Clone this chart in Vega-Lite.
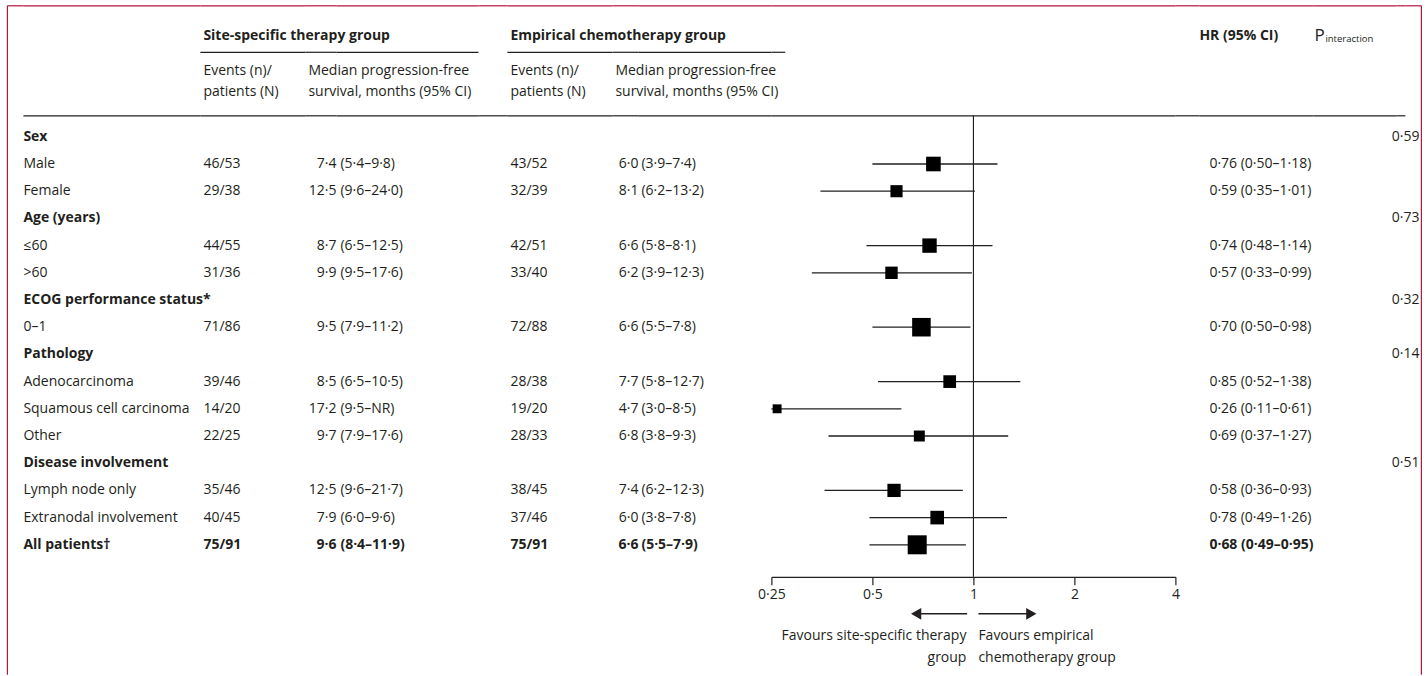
{
"$schema":"https://vega.github.io/schema/vega-lite/v6.json",
"background":"white",
"padding":{"left":6.4,"top":4.4,"right":0,"bottom":0},
"spacing":0,
"bounds":"flush",
"datasets":{"rows":[
{"k":"r0","label":"Sex","kind":"group","p":"0·59"},
{"k":"r1","label":"Male","kind":"item","se":"46/53","sm":"7·4","sc":"(5·4–9·8)","ee":"43/52","em":"6·0","ec":"(3·9–7·4)","hr":0.76,"lo":0.50,"hi":1.18,"hrt":"0·76 (0·50–1·18)","events":89},
{"k":"r2","label":"Female","kind":"item","se":"29/38","sm":"12·5","sc":"(9·6–24·0)","ee":"32/39","em":"8·1","ec":"(6·2–13·2)","hr":0.59,"lo":0.35,"hi":1.01,"hrt":"0·59 (0·35–1·01)","events":61},
{"k":"r3","label":"Age (years)","kind":"group","p":"0·73"},
{"k":"r4","label":"≤60","kind":"item","se":"44/55","sm":"8·7","sc":"(6·5–12·5)","ee":"42/51","em":"6·6","ec":"(5·8–8·1)","hr":0.74,"lo":0.48,"hi":1.14,"hrt":"0·74 (0·48–1·14)","events":86},
{"k":"r5","label":">60","kind":"item","se":"31/36","sm":"9·9","sc":"(9·5–17·6)","ee":"33/40","em":"6·2","ec":"(3·9–12·3)","hr":0.57,"lo":0.33,"hi":0.99,"hrt":"0·57 (0·33–0·99)","events":64},
{"k":"r6","label":"ECOG performance status*","kind":"group","p":"0·32"},
{"k":"r7","label":"0–1","kind":"item","se":"71/86","sm":"9·5","sc":"(7·9–11·2)","ee":"72/88","em":"6·6","ec":"(5·5–7·8)","hr":0.70,"lo":0.50,"hi":0.98,"hrt":"0·70 (0·50–0·98)","events":143},
{"k":"r8","label":"Pathology","kind":"group","p":"0·14"},
{"k":"r9","label":"Adenocarcinoma","kind":"item","se":"39/46","sm":"8·5","sc":"(6·5–10·5)","ee":"28/38","em":"7·7","ec":"(5·8–12·7)","hr":0.85,"lo":0.52,"hi":1.38,"hrt":"0·85 (0·52–1·38)","events":67},
{"k":"r10","label":"Squamous cell carcinoma","kind":"item","se":"14/20","sm":"17·2","sc":"(9·5–NR)","ee":"19/20","em":"4·7","ec":"(3·0–8·5)","hr":0.26,"lo":0.11,"hi":0.61,"hrt":"0·26 (0·11–0·61)","events":33},
{"k":"r11","label":"Other","kind":"item","se":"22/25","sm":"9·7","sc":"(7·9–17·6)","ee":"28/33","em":"6·8","ec":"(3·8–9·3)","hr":0.69,"lo":0.37,"hi":1.27,"hrt":"0·69 (0·37–1·27)","events":50},
{"k":"r12","label":"Disease involvement","kind":"group","p":"0·51"},
{"k":"r13","label":"Lymph node only","kind":"item","se":"35/46","sm":"12·5","sc":"(9·6–21·7)","ee":"38/45","em":"7·4","ec":"(6·2–12·3)","hr":0.58,"lo":0.36,"hi":0.93,"hrt":"0·58 (0·36–0·93)","events":73},
{"k":"r14","label":"Extranodal involvement","kind":"item","se":"40/45","sm":"7·9","sc":"(6·0–9·6)","ee":"37/46","em":"6·0","ec":"(3·8–7·8)","hr":0.78,"lo":0.49,"hi":1.26,"hrt":"0·78 (0·49–1·26)","events":77},
{"k":"r15","label":"All patients†","kind":"total","se":"75/91","sm":"9·6","sc":"(8·4–11·9)","ee":"75/91","em":"6·6","ec":"(5·5–7·9)","hr":0.68,"lo":0.49,"hi":0.95,"hrt":"0·68 (0·49–0·95)","events":150}
]},
"hconcat":[
{"width":16,"height":562.4,"layer":[
 {"data":{"values":[{}]},"mark":{"type":"rule","color":"#b0183d","strokeWidth":1.2},"encoding":{"y":{"datum":"h1","type":"nominal","bandPosition":-0.316,"scale":{"type":"band","domain":["h1","h2","h3","h4","r0","r1","r2","r3","r4","r5","r6","r7","r8","r9","r10","r11","r12","r13","r14","r15"],"paddingInner":0,"paddingOuter":0.338,"align":0,"round":false},"axis":null}}},
 {"data":{"values":[{}]},"mark":{"type":"rule","color":"#b0183d","strokeWidth":1.2},"encoding":{"x":{"datum":0,"type":"quantitative","scale":{"domain":[0,1]},"axis":null},"y":{"datum":"h1","type":"nominal","bandPosition":-0.316,"scale":{"type":"band","domain":["h1","h2","h3","h4","r0","r1","r2","r3","r4","r5","r6","r7","r8","r9","r10","r11","r12","r13","r14","r15"],"paddingInner":0,"paddingOuter":0.338,"align":0,"round":false},"axis":null},"y2":{"datum":"r15","bandPosition":5.279}}}
]},
{"width":177,"height":562.4,"layer":[
 {"data":{"values":[{}]},"mark":{"type":"rule","color":"#b0183d","strokeWidth":1.2},"encoding":{"y":{"datum":"h1","type":"nominal","bandPosition":-0.316,"scale":{"type":"band","domain":["h1","h2","h3","h4","r0","r1","r2","r3","r4","r5","r6","r7","r8","r9","r10","r11","r12","r13","r14","r15"],"paddingInner":0,"paddingOuter":0.338,"align":0,"round":false},"axis":null}}},
 {"data":{"values":[{}]},"mark":{"type":"rule"},"encoding":{"y":{"datum":"h4","type":"nominal","bandPosition":0.728,"scale":{"type":"band","domain":["h1","h2","h3","h4","r0","r1","r2","r3","r4","r5","r6","r7","r8","r9","r10","r11","r12","r13","r14","r15"],"paddingInner":0,"paddingOuter":0.338,"align":0,"round":false},"axis":null}}},
 {"data":{"name":"rows"},"transform":[{"filter":"datum.kind == 'item'"}],"mark":{"type":"text","align":"left"},"encoding":{"x":{"datum":0,"type":"quantitative","scale":{"domain":[0,1]},"axis":null},"y":{"field":"k","type":"nominal","scale":{"type":"band","domain":["h1","h2","h3","h4","r0","r1","r2","r3","r4","r5","r6","r7","r8","r9","r10","r11","r12","r13","r14","r15"],"paddingInner":0,"paddingOuter":0.338,"align":0,"round":false},"axis":null},"text":{"field":"label"}}},
 {"data":{"name":"rows"},"transform":[{"filter":"datum.kind != 'item'"}],"mark":{"type":"text","align":"left","fontWeight":"bold"},"encoding":{"x":{"datum":0,"type":"quantitative","scale":{"domain":[0,1]},"axis":null},"y":{"field":"k","type":"nominal","scale":{"type":"band","domain":["h1","h2","h3","h4","r0","r1","r2","r3","r4","r5","r6","r7","r8","r9","r10","r11","r12","r13","r14","r15"],"paddingInner":0,"paddingOuter":0.338,"align":0,"round":false},"axis":null},"text":{"field":"label"}}}
]},
{"width":105,"height":562.4,"layer":[
 {"data":{"values":[{}]},"mark":{"type":"rule","color":"#b0183d","strokeWidth":1.2},"encoding":{"y":{"datum":"h1","type":"nominal","bandPosition":-0.316,"scale":{"type":"band","domain":["h1","h2","h3","h4","r0","r1","r2","r3","r4","r5","r6","r7","r8","r9","r10","r11","r12","r13","r14","r15"],"paddingInner":0,"paddingOuter":0.338,"align":0,"round":false},"axis":null}}},
 {"data":{"values":[{}]},"mark":{"type":"rule"},"encoding":{"y":{"datum":"h4","type":"nominal","bandPosition":0.728,"scale":{"type":"band","domain":["h1","h2","h3","h4","r0","r1","r2","r3","r4","r5","r6","r7","r8","r9","r10","r11","r12","r13","r14","r15"],"paddingInner":0,"paddingOuter":0.338,"align":0,"round":false},"axis":null}}},
 {"data":{"values":[{}]},"mark":{"type":"rule"},"encoding":{"y":{"datum":"h2","type":"nominal","bandPosition":0.393,"scale":{"type":"band","domain":["h1","h2","h3","h4","r0","r1","r2","r3","r4","r5","r6","r7","r8","r9","r10","r11","r12","r13","r14","r15"],"paddingInner":0,"paddingOuter":0.338,"align":0,"round":false},"axis":null}}},
 {"data":{"values":[{"t":"Site-specific therapy group"}]},"mark":{"type":"text","align":"left","fontWeight":"bold","dx":3},"encoding":{"x":{"datum":0,"type":"quantitative","scale":{"domain":[0,1]},"axis":null},"y":{"datum":"h1","type":"nominal","bandPosition":0.787,"scale":{"type":"band","domain":["h1","h2","h3","h4","r0","r1","r2","r3","r4","r5","r6","r7","r8","r9","r10","r11","r12","r13","r14","r15"],"paddingInner":0,"paddingOuter":0.338,"align":0,"round":false},"axis":null},"text":{"field":"t"}}},
 {"data":{"values":[{"t":"Events (n)/\npatients (N)"}]},"mark":{"type":"text","align":"left","lineBreak":"\n","lineHeight":20.7,"dx":3},"encoding":{"x":{"datum":0,"type":"quantitative","scale":{"domain":[0,1]},"axis":null},"y":{"datum":"h3","type":"nominal","bandPosition":0.074,"scale":{"type":"band","domain":["h1","h2","h3","h4","r0","r1","r2","r3","r4","r5","r6","r7","r8","r9","r10","r11","r12","r13","r14","r15"],"paddingInner":0,"paddingOuter":0.338,"align":0,"round":false},"axis":null},"text":{"field":"t"}}},
 {"data":{"name":"rows"},"transform":[{"filter":"datum.kind == 'item'"}],"mark":{"type":"text","align":"left","dx":3},"encoding":{"x":{"datum":0,"type":"quantitative","scale":{"domain":[0,1]},"axis":null},"y":{"field":"k","type":"nominal","scale":{"type":"band","domain":["h1","h2","h3","h4","r0","r1","r2","r3","r4","r5","r6","r7","r8","r9","r10","r11","r12","r13","r14","r15"],"paddingInner":0,"paddingOuter":0.338,"align":0,"round":false},"axis":null},"text":{"field":"se"}}},
 {"data":{"name":"rows"},"transform":[{"filter":"datum.kind == 'total'"}],"mark":{"type":"text","align":"left","dx":3,"fontWeight":"bold"},"encoding":{"x":{"datum":0,"type":"quantitative","scale":{"domain":[0,1]},"axis":null},"y":{"field":"k","type":"nominal","scale":{"type":"band","domain":["h1","h2","h3","h4","r0","r1","r2","r3","r4","r5","r6","r7","r8","r9","r10","r11","r12","r13","r14","r15"],"paddingInner":0,"paddingOuter":0.338,"align":0,"round":false},"axis":null},"text":{"field":"se"}}}
]},
{"width":31,"height":562.4,"layer":[
 {"data":{"values":[{}]},"mark":{"type":"rule","color":"#b0183d","strokeWidth":1.2},"encoding":{"y":{"datum":"h1","type":"nominal","bandPosition":-0.316,"scale":{"type":"band","domain":["h1","h2","h3","h4","r0","r1","r2","r3","r4","r5","r6","r7","r8","r9","r10","r11","r12","r13","r14","r15"],"paddingInner":0,"paddingOuter":0.338,"align":0,"round":false},"axis":null}}},
 {"data":{"values":[{}]},"mark":{"type":"rule"},"encoding":{"y":{"datum":"h4","type":"nominal","bandPosition":0.728,"scale":{"type":"band","domain":["h1","h2","h3","h4","r0","r1","r2","r3","r4","r5","r6","r7","r8","r9","r10","r11","r12","r13","r14","r15"],"paddingInner":0,"paddingOuter":0.338,"align":0,"round":false},"axis":null}}},
 {"data":{"values":[{}]},"mark":{"type":"rule"},"encoding":{"y":{"datum":"h2","type":"nominal","bandPosition":0.393,"scale":{"type":"band","domain":["h1","h2","h3","h4","r0","r1","r2","r3","r4","r5","r6","r7","r8","r9","r10","r11","r12","r13","r14","r15"],"paddingInner":0,"paddingOuter":0.338,"align":0,"round":false},"axis":null}}},
 {"data":{"values":[{"t":"Median progression-free\nsurvival, months (95% CI)"}]},"mark":{"type":"text","align":"left","lineBreak":"\n","lineHeight":20.7,"dx":3},"encoding":{"x":{"datum":0,"type":"quantitative","scale":{"domain":[0,1]},"axis":null},"y":{"datum":"h3","type":"nominal","bandPosition":0.074,"scale":{"type":"band","domain":["h1","h2","h3","h4","r0","r1","r2","r3","r4","r5","r6","r7","r8","r9","r10","r11","r12","r13","r14","r15"],"paddingInner":0,"paddingOuter":0.338,"align":0,"round":false},"axis":null},"text":{"field":"t"}}},
 {"data":{"name":"rows"},"transform":[{"filter":"datum.kind == 'item'"}],"mark":{"type":"text","align":"right"},"encoding":{"x":{"datum":1,"type":"quantitative","scale":{"domain":[0,1]},"axis":null},"y":{"field":"k","type":"nominal","scale":{"type":"band","domain":["h1","h2","h3","h4","r0","r1","r2","r3","r4","r5","r6","r7","r8","r9","r10","r11","r12","r13","r14","r15"],"paddingInner":0,"paddingOuter":0.338,"align":0,"round":false},"axis":null},"text":{"field":"sm"}}},
 {"data":{"name":"rows"},"transform":[{"filter":"datum.kind == 'total'"}],"mark":{"type":"text","align":"right","fontWeight":"bold"},"encoding":{"x":{"datum":1,"type":"quantitative","scale":{"domain":[0,1]},"axis":null},"y":{"field":"k","type":"nominal","scale":{"type":"band","domain":["h1","h2","h3","h4","r0","r1","r2","r3","r4","r5","r6","r7","r8","r9","r10","r11","r12","r13","r14","r15"],"paddingInner":0,"paddingOuter":0.338,"align":0,"round":false},"axis":null},"text":{"field":"sm"}}}
]},
{"width":142,"height":562.4,"layer":[
 {"data":{"values":[{}]},"mark":{"type":"rule","color":"#b0183d","strokeWidth":1.2},"encoding":{"y":{"datum":"h1","type":"nominal","bandPosition":-0.316,"scale":{"type":"band","domain":["h1","h2","h3","h4","r0","r1","r2","r3","r4","r5","r6","r7","r8","r9","r10","r11","r12","r13","r14","r15"],"paddingInner":0,"paddingOuter":0.338,"align":0,"round":false},"axis":null}}},
 {"data":{"values":[{}]},"mark":{"type":"rule"},"encoding":{"y":{"datum":"h4","type":"nominal","bandPosition":0.728,"scale":{"type":"band","domain":["h1","h2","h3","h4","r0","r1","r2","r3","r4","r5","r6","r7","r8","r9","r10","r11","r12","r13","r14","r15"],"paddingInner":0,"paddingOuter":0.338,"align":0,"round":false},"axis":null}}},
 {"data":{"values":[{}]},"mark":{"type":"rule"},"encoding":{"y":{"datum":"h2","type":"nominal","bandPosition":0.393,"scale":{"type":"band","domain":["h1","h2","h3","h4","r0","r1","r2","r3","r4","r5","r6","r7","r8","r9","r10","r11","r12","r13","r14","r15"],"paddingInner":0,"paddingOuter":0.338,"align":0,"round":false},"axis":null}}},
 {"data":{"name":"rows"},"transform":[{"filter":"datum.kind == 'item'"}],"mark":{"type":"text","align":"left","dx":4},"encoding":{"x":{"datum":0,"type":"quantitative","scale":{"domain":[0,1]},"axis":null},"y":{"field":"k","type":"nominal","scale":{"type":"band","domain":["h1","h2","h3","h4","r0","r1","r2","r3","r4","r5","r6","r7","r8","r9","r10","r11","r12","r13","r14","r15"],"paddingInner":0,"paddingOuter":0.338,"align":0,"round":false},"axis":null},"text":{"field":"sc"}}},
 {"data":{"name":"rows"},"transform":[{"filter":"datum.kind == 'total'"}],"mark":{"type":"text","align":"left","dx":4,"fontWeight":"bold"},"encoding":{"x":{"datum":0,"type":"quantitative","scale":{"domain":[0,1]},"axis":null},"y":{"field":"k","type":"nominal","scale":{"type":"band","domain":["h1","h2","h3","h4","r0","r1","r2","r3","r4","r5","r6","r7","r8","r9","r10","r11","r12","r13","r14","r15"],"paddingInner":0,"paddingOuter":0.338,"align":0,"round":false},"axis":null},"text":{"field":"sc"}}}
]},
{"width":29,"height":562.4,"layer":[
 {"data":{"values":[{}]},"mark":{"type":"rule","color":"#b0183d","strokeWidth":1.2},"encoding":{"y":{"datum":"h1","type":"nominal","bandPosition":-0.316,"scale":{"type":"band","domain":["h1","h2","h3","h4","r0","r1","r2","r3","r4","r5","r6","r7","r8","r9","r10","r11","r12","r13","r14","r15"],"paddingInner":0,"paddingOuter":0.338,"align":0,"round":false},"axis":null}}},
 {"data":{"values":[{}]},"mark":{"type":"rule"},"encoding":{"y":{"datum":"h4","type":"nominal","bandPosition":0.728,"scale":{"type":"band","domain":["h1","h2","h3","h4","r0","r1","r2","r3","r4","r5","r6","r7","r8","r9","r10","r11","r12","r13","r14","r15"],"paddingInner":0,"paddingOuter":0.338,"align":0,"round":false},"axis":null}}}
]},
{"width":105,"height":562.4,"layer":[
 {"data":{"values":[{}]},"mark":{"type":"rule","color":"#b0183d","strokeWidth":1.2},"encoding":{"y":{"datum":"h1","type":"nominal","bandPosition":-0.316,"scale":{"type":"band","domain":["h1","h2","h3","h4","r0","r1","r2","r3","r4","r5","r6","r7","r8","r9","r10","r11","r12","r13","r14","r15"],"paddingInner":0,"paddingOuter":0.338,"align":0,"round":false},"axis":null}}},
 {"data":{"values":[{}]},"mark":{"type":"rule"},"encoding":{"y":{"datum":"h4","type":"nominal","bandPosition":0.728,"scale":{"type":"band","domain":["h1","h2","h3","h4","r0","r1","r2","r3","r4","r5","r6","r7","r8","r9","r10","r11","r12","r13","r14","r15"],"paddingInner":0,"paddingOuter":0.338,"align":0,"round":false},"axis":null}}},
 {"data":{"values":[{}]},"mark":{"type":"rule"},"encoding":{"y":{"datum":"h2","type":"nominal","bandPosition":0.393,"scale":{"type":"band","domain":["h1","h2","h3","h4","r0","r1","r2","r3","r4","r5","r6","r7","r8","r9","r10","r11","r12","r13","r14","r15"],"paddingInner":0,"paddingOuter":0.338,"align":0,"round":false},"axis":null}}},
 {"data":{"values":[{"t":"Empirical chemotherapy group"}]},"mark":{"type":"text","align":"left","fontWeight":"bold","dx":3},"encoding":{"x":{"datum":0,"type":"quantitative","scale":{"domain":[0,1]},"axis":null},"y":{"datum":"h1","type":"nominal","bandPosition":0.787,"scale":{"type":"band","domain":["h1","h2","h3","h4","r0","r1","r2","r3","r4","r5","r6","r7","r8","r9","r10","r11","r12","r13","r14","r15"],"paddingInner":0,"paddingOuter":0.338,"align":0,"round":false},"axis":null},"text":{"field":"t"}}},
 {"data":{"values":[{"t":"Events (n)/\npatients (N)"}]},"mark":{"type":"text","align":"left","lineBreak":"\n","lineHeight":20.7,"dx":3},"encoding":{"x":{"datum":0,"type":"quantitative","scale":{"domain":[0,1]},"axis":null},"y":{"datum":"h3","type":"nominal","bandPosition":0.074,"scale":{"type":"band","domain":["h1","h2","h3","h4","r0","r1","r2","r3","r4","r5","r6","r7","r8","r9","r10","r11","r12","r13","r14","r15"],"paddingInner":0,"paddingOuter":0.338,"align":0,"round":false},"axis":null},"text":{"field":"t"}}},
 {"data":{"name":"rows"},"transform":[{"filter":"datum.kind == 'item'"}],"mark":{"type":"text","align":"left","dx":3},"encoding":{"x":{"datum":0,"type":"quantitative","scale":{"domain":[0,1]},"axis":null},"y":{"field":"k","type":"nominal","scale":{"type":"band","domain":["h1","h2","h3","h4","r0","r1","r2","r3","r4","r5","r6","r7","r8","r9","r10","r11","r12","r13","r14","r15"],"paddingInner":0,"paddingOuter":0.338,"align":0,"round":false},"axis":null},"text":{"field":"ee"}}},
 {"data":{"name":"rows"},"transform":[{"filter":"datum.kind == 'total'"}],"mark":{"type":"text","align":"left","dx":3,"fontWeight":"bold"},"encoding":{"x":{"datum":0,"type":"quantitative","scale":{"domain":[0,1]},"axis":null},"y":{"field":"k","type":"nominal","scale":{"type":"band","domain":["h1","h2","h3","h4","r0","r1","r2","r3","r4","r5","r6","r7","r8","r9","r10","r11","r12","r13","r14","r15"],"paddingInner":0,"paddingOuter":0.338,"align":0,"round":false},"axis":null},"text":{"field":"ee"}}}
]},
{"width":26,"height":562.4,"layer":[
 {"data":{"values":[{}]},"mark":{"type":"rule","color":"#b0183d","strokeWidth":1.2},"encoding":{"y":{"datum":"h1","type":"nominal","bandPosition":-0.316,"scale":{"type":"band","domain":["h1","h2","h3","h4","r0","r1","r2","r3","r4","r5","r6","r7","r8","r9","r10","r11","r12","r13","r14","r15"],"paddingInner":0,"paddingOuter":0.338,"align":0,"round":false},"axis":null}}},
 {"data":{"values":[{}]},"mark":{"type":"rule"},"encoding":{"y":{"datum":"h4","type":"nominal","bandPosition":0.728,"scale":{"type":"band","domain":["h1","h2","h3","h4","r0","r1","r2","r3","r4","r5","r6","r7","r8","r9","r10","r11","r12","r13","r14","r15"],"paddingInner":0,"paddingOuter":0.338,"align":0,"round":false},"axis":null}}},
 {"data":{"values":[{}]},"mark":{"type":"rule"},"encoding":{"y":{"datum":"h2","type":"nominal","bandPosition":0.393,"scale":{"type":"band","domain":["h1","h2","h3","h4","r0","r1","r2","r3","r4","r5","r6","r7","r8","r9","r10","r11","r12","r13","r14","r15"],"paddingInner":0,"paddingOuter":0.338,"align":0,"round":false},"axis":null}}},
 {"data":{"values":[{"t":"Median progression-free\nsurvival, months (95% CI)"}]},"mark":{"type":"text","align":"left","lineBreak":"\n","lineHeight":20.7,"dx":3},"encoding":{"x":{"datum":0,"type":"quantitative","scale":{"domain":[0,1]},"axis":null},"y":{"datum":"h3","type":"nominal","bandPosition":0.074,"scale":{"type":"band","domain":["h1","h2","h3","h4","r0","r1","r2","r3","r4","r5","r6","r7","r8","r9","r10","r11","r12","r13","r14","r15"],"paddingInner":0,"paddingOuter":0.338,"align":0,"round":false},"axis":null},"text":{"field":"t"}}},
 {"data":{"name":"rows"},"transform":[{"filter":"datum.kind == 'item'"}],"mark":{"type":"text","align":"right"},"encoding":{"x":{"datum":1,"type":"quantitative","scale":{"domain":[0,1]},"axis":null},"y":{"field":"k","type":"nominal","scale":{"type":"band","domain":["h1","h2","h3","h4","r0","r1","r2","r3","r4","r5","r6","r7","r8","r9","r10","r11","r12","r13","r14","r15"],"paddingInner":0,"paddingOuter":0.338,"align":0,"round":false},"axis":null},"text":{"field":"em"}}},
 {"data":{"name":"rows"},"transform":[{"filter":"datum.kind == 'total'"}],"mark":{"type":"text","align":"right","fontWeight":"bold"},"encoding":{"x":{"datum":1,"type":"quantitative","scale":{"domain":[0,1]},"axis":null},"y":{"field":"k","type":"nominal","scale":{"type":"band","domain":["h1","h2","h3","h4","r0","r1","r2","r3","r4","r5","r6","r7","r8","r9","r10","r11","r12","r13","r14","r15"],"paddingInner":0,"paddingOuter":0.338,"align":0,"round":false},"axis":null},"text":{"field":"em"}}}
]},
{"width":133,"height":562.4,"layer":[
 {"data":{"values":[{}]},"mark":{"type":"rule","color":"#b0183d","strokeWidth":1.2},"encoding":{"y":{"datum":"h1","type":"nominal","bandPosition":-0.316,"scale":{"type":"band","domain":["h1","h2","h3","h4","r0","r1","r2","r3","r4","r5","r6","r7","r8","r9","r10","r11","r12","r13","r14","r15"],"paddingInner":0,"paddingOuter":0.338,"align":0,"round":false},"axis":null}}},
 {"data":{"values":[{}]},"mark":{"type":"rule"},"encoding":{"y":{"datum":"h4","type":"nominal","bandPosition":0.728,"scale":{"type":"band","domain":["h1","h2","h3","h4","r0","r1","r2","r3","r4","r5","r6","r7","r8","r9","r10","r11","r12","r13","r14","r15"],"paddingInner":0,"paddingOuter":0.338,"align":0,"round":false},"axis":null}}},
 {"data":{"values":[{}]},"mark":{"type":"rule"},"encoding":{"y":{"datum":"h2","type":"nominal","bandPosition":0.393,"scale":{"type":"band","domain":["h1","h2","h3","h4","r0","r1","r2","r3","r4","r5","r6","r7","r8","r9","r10","r11","r12","r13","r14","r15"],"paddingInner":0,"paddingOuter":0.338,"align":0,"round":false},"axis":null}}},
 {"data":{"name":"rows"},"transform":[{"filter":"datum.kind == 'item'"}],"mark":{"type":"text","align":"left","dx":3},"encoding":{"x":{"datum":0,"type":"quantitative","scale":{"domain":[0,1]},"axis":null},"y":{"field":"k","type":"nominal","scale":{"type":"band","domain":["h1","h2","h3","h4","r0","r1","r2","r3","r4","r5","r6","r7","r8","r9","r10","r11","r12","r13","r14","r15"],"paddingInner":0,"paddingOuter":0.338,"align":0,"round":false},"axis":null},"text":{"field":"ec"}}},
 {"data":{"name":"rows"},"transform":[{"filter":"datum.kind == 'total'"}],"mark":{"type":"text","align":"left","dx":3,"fontWeight":"bold"},"encoding":{"x":{"datum":0,"type":"quantitative","scale":{"domain":[0,1]},"axis":null},"y":{"field":"k","type":"nominal","scale":{"type":"band","domain":["h1","h2","h3","h4","r0","r1","r2","r3","r4","r5","r6","r7","r8","r9","r10","r11","r12","r13","r14","r15"],"paddingInner":0,"paddingOuter":0.338,"align":0,"round":false},"axis":null},"text":{"field":"ec"}}}
]},
{"width":404,"height":562.4,"layer":[
 {"data":{"values":[{}]},"mark":{"type":"rule","color":"#b0183d","strokeWidth":1.2},"encoding":{"y":{"datum":"h1","type":"nominal","bandPosition":-0.316,"scale":{"type":"band","domain":["h1","h2","h3","h4","r0","r1","r2","r3","r4","r5","r6","r7","r8","r9","r10","r11","r12","r13","r14","r15"],"paddingInner":0,"paddingOuter":0.338,"align":0,"round":false},"axis":null}}},
 {"data":{"values":[{}]},"mark":{"type":"rule"},"encoding":{"y":{"datum":"h4","type":"nominal","bandPosition":0.728,"scale":{"type":"band","domain":["h1","h2","h3","h4","r0","r1","r2","r3","r4","r5","r6","r7","r8","r9","r10","r11","r12","r13","r14","r15"],"paddingInner":0,"paddingOuter":0.338,"align":0,"round":false},"axis":null}}},
 {"data":{"values":[{}]},"mark":{"type":"rule","color":"#000000","strokeWidth":1},"encoding":{"x":{"datum":1,"type":"quantitative","scale":{"type":"log","domain":[0.25,4],"clamp":true,"nice":false},"axis":{"orient":"bottom","values":[0.25,0.5,1,2,4],"labelExpr":"replace(toString(datum.value), '.', '·')","title":null,"grid":false,"domainColor":"#231f20","domainWidth":1.2,"tickColor":"#231f20","tickWidth":1.2,"tickSize":8,"labelFont":"Open Sans","labelFontSize":14,"labelColor":"#231f20","labelPadding":3,"labelFlush":false,"labelOverlap":false}},"y":{"datum":"h4","type":"nominal","bandPosition":0.728,"scale":{"type":"band","domain":["h1","h2","h3","h4","r0","r1","r2","r3","r4","r5","r6","r7","r8","r9","r10","r11","r12","r13","r14","r15"],"paddingInner":0,"paddingOuter":0.338,"align":0,"round":false},"axis":null},"y2":{"datum":"r15","bandPosition":1.676}}},
 {"data":{"values":[{}]},"mark":{"type":"rule"},"encoding":{"x":{"datum":0.25,"type":"quantitative","scale":{"type":"log","domain":[0.25,4],"clamp":true,"nice":false}},"x2":{"datum":0.275},"y":{"datum":"h2","type":"nominal","bandPosition":0.393,"scale":{"type":"band","domain":["h1","h2","h3","h4","r0","r1","r2","r3","r4","r5","r6","r7","r8","r9","r10","r11","r12","r13","r14","r15"],"paddingInner":0,"paddingOuter":0.338,"align":0,"round":false},"axis":null}}},
 {"data":{"name":"rows"},"transform":[{"filter":"datum.hr != null"}],"mark":{"type":"rule","strokeWidth":1.3},"encoding":{"x":{"field":"lo","type":"quantitative","scale":{"type":"log","domain":[0.25,4],"clamp":true,"nice":false}},"x2":{"field":"hi"},"y":{"field":"k","type":"nominal","scale":{"type":"band","domain":["h1","h2","h3","h4","r0","r1","r2","r3","r4","r5","r6","r7","r8","r9","r10","r11","r12","r13","r14","r15"],"paddingInner":0,"paddingOuter":0.338,"align":0,"round":false},"axis":null}}},
 {"data":{"name":"rows"},"transform":[{"filter":"datum.hr != null"}],"mark":{"type":"point","shape":"square","filled":true,"color":"#000000","opacity":1},"encoding":{"x":{"field":"hr","type":"quantitative","scale":{"type":"log","domain":[0.25,4],"clamp":true,"nice":false}},"y":{"field":"k","type":"nominal","scale":{"type":"band","domain":["h1","h2","h3","h4","r0","r1","r2","r3","r4","r5","r6","r7","r8","r9","r10","r11","r12","r13","r14","r15"],"paddingInner":0,"paddingOuter":0.338,"align":0,"round":false},"axis":null},"size":{"field":"events","type":"quantitative","scale":{"domain":[0,150],"range":[0,361]},"legend":null}}},
 {"data":{"values":[{}]},"mark":{"type":"rule","strokeWidth":1.5},"encoding":{"x":{"datum":0.958,"type":"quantitative","scale":{"type":"log","domain":[0.25,4],"clamp":true,"nice":false}},"x2":{"datum":0.675},"y":{"datum":"r15","type":"nominal","bandPosition":3.037,"scale":{"type":"band","domain":["h1","h2","h3","h4","r0","r1","r2","r3","r4","r5","r6","r7","r8","r9","r10","r11","r12","r13","r14","r15"],"paddingInner":0,"paddingOuter":0.338,"align":0,"round":false},"axis":null}}},
 {"data":{"values":[{}]},"mark":{"type":"rule","strokeWidth":1.5},"encoding":{"x":{"datum":1.035,"type":"quantitative","scale":{"type":"log","domain":[0.25,4],"clamp":true,"nice":false}},"x2":{"datum":1.488},"y":{"datum":"r15","type":"nominal","bandPosition":3.037,"scale":{"type":"band","domain":["h1","h2","h3","h4","r0","r1","r2","r3","r4","r5","r6","r7","r8","r9","r10","r11","r12","r13","r14","r15"],"paddingInner":0,"paddingOuter":0.338,"align":0,"round":false},"axis":null}}},
 {"data":{"values":[{}]},"mark":{"type":"point","shape":"triangle-left","filled":true,"size":140,"color":"#231f20","opacity":1},"encoding":{"x":{"datum":0.675,"type":"quantitative","scale":{"type":"log","domain":[0.25,4],"clamp":true,"nice":false}},"y":{"datum":"r15","type":"nominal","bandPosition":3.037,"scale":{"type":"band","domain":["h1","h2","h3","h4","r0","r1","r2","r3","r4","r5","r6","r7","r8","r9","r10","r11","r12","r13","r14","r15"],"paddingInner":0,"paddingOuter":0.338,"align":0,"round":false},"axis":null}}},
 {"data":{"values":[{}]},"mark":{"type":"point","shape":"triangle-right","filled":true,"size":140,"color":"#231f20","opacity":1},"encoding":{"x":{"datum":1.488,"type":"quantitative","scale":{"type":"log","domain":[0.25,4],"clamp":true,"nice":false}},"y":{"datum":"r15","type":"nominal","bandPosition":3.037,"scale":{"type":"band","domain":["h1","h2","h3","h4","r0","r1","r2","r3","r4","r5","r6","r7","r8","r9","r10","r11","r12","r13","r14","r15"],"paddingInner":0,"paddingOuter":0.338,"align":0,"round":false},"axis":null}}},
 {"data":{"values":[{"t":"Favours site-specific therapy\ngroup"}]},"mark":{"type":"text","align":"right","dx":-7,"lineBreak":"\n","lineHeight":22},"encoding":{"x":{"datum":1,"type":"quantitative","scale":{"type":"log","domain":[0.25,4],"clamp":true,"nice":false}},"y":{"datum":"r15","type":"nominal","bandPosition":3.846,"scale":{"type":"band","domain":["h1","h2","h3","h4","r0","r1","r2","r3","r4","r5","r6","r7","r8","r9","r10","r11","r12","r13","r14","r15"],"paddingInner":0,"paddingOuter":0.338,"align":0,"round":false},"axis":null},"text":{"field":"t"}}},
 {"data":{"values":[{"t":"Favours empirical\nchemotherapy group"}]},"mark":{"type":"text","align":"left","dx":5,"lineBreak":"\n","lineHeight":22},"encoding":{"x":{"datum":1,"type":"quantitative","scale":{"type":"log","domain":[0.25,4],"clamp":true,"nice":false}},"y":{"datum":"r15","type":"nominal","bandPosition":3.846,"scale":{"type":"band","domain":["h1","h2","h3","h4","r0","r1","r2","r3","r4","r5","r6","r7","r8","r9","r10","r11","r12","r13","r14","r15"],"paddingInner":0,"paddingOuter":0.338,"align":0,"round":false},"axis":null},"text":{"field":"t"}}}
]},
{"width":24,"height":562.4,"layer":[
 {"data":{"values":[{}]},"mark":{"type":"rule","color":"#b0183d","strokeWidth":1.2},"encoding":{"y":{"datum":"h1","type":"nominal","bandPosition":-0.316,"scale":{"type":"band","domain":["h1","h2","h3","h4","r0","r1","r2","r3","r4","r5","r6","r7","r8","r9","r10","r11","r12","r13","r14","r15"],"paddingInner":0,"paddingOuter":0.338,"align":0,"round":false},"axis":null}}},
 {"data":{"values":[{}]},"mark":{"type":"rule"},"encoding":{"y":{"datum":"h4","type":"nominal","bandPosition":0.728,"scale":{"type":"band","domain":["h1","h2","h3","h4","r0","r1","r2","r3","r4","r5","r6","r7","r8","r9","r10","r11","r12","r13","r14","r15"],"paddingInner":0,"paddingOuter":0.338,"align":0,"round":false},"axis":null}}}
]},
{"width":114,"height":562.4,"layer":[
 {"data":{"values":[{}]},"mark":{"type":"rule","color":"#b0183d","strokeWidth":1.2},"encoding":{"y":{"datum":"h1","type":"nominal","bandPosition":-0.316,"scale":{"type":"band","domain":["h1","h2","h3","h4","r0","r1","r2","r3","r4","r5","r6","r7","r8","r9","r10","r11","r12","r13","r14","r15"],"paddingInner":0,"paddingOuter":0.338,"align":0,"round":false},"axis":null}}},
 {"data":{"values":[{}]},"mark":{"type":"rule"},"encoding":{"y":{"datum":"h4","type":"nominal","bandPosition":0.728,"scale":{"type":"band","domain":["h1","h2","h3","h4","r0","r1","r2","r3","r4","r5","r6","r7","r8","r9","r10","r11","r12","r13","r14","r15"],"paddingInner":0,"paddingOuter":0.338,"align":0,"round":false},"axis":null}}},
 {"data":{"values":[{"t":"HR (95% CI)"}]},"mark":{"type":"text","align":"left","fontWeight":"bold"},"encoding":{"x":{"datum":0,"type":"quantitative","scale":{"domain":[0,1]},"axis":null},"y":{"datum":"h1","type":"nominal","bandPosition":0.787,"scale":{"type":"band","domain":["h1","h2","h3","h4","r0","r1","r2","r3","r4","r5","r6","r7","r8","r9","r10","r11","r12","r13","r14","r15"],"paddingInner":0,"paddingOuter":0.338,"align":0,"round":false},"axis":null},"text":{"field":"t"}}},
 {"data":{"name":"rows"},"transform":[{"filter":"datum.kind == 'item'"}],"mark":{"type":"text","align":"left","dx":10},"encoding":{"x":{"datum":0,"type":"quantitative","scale":{"domain":[0,1]},"axis":null},"y":{"field":"k","type":"nominal","scale":{"type":"band","domain":["h1","h2","h3","h4","r0","r1","r2","r3","r4","r5","r6","r7","r8","r9","r10","r11","r12","r13","r14","r15"],"paddingInner":0,"paddingOuter":0.338,"align":0,"round":false},"axis":null},"text":{"field":"hrt"}}},
 {"data":{"name":"rows"},"transform":[{"filter":"datum.kind == 'total'"}],"mark":{"type":"text","align":"left","dx":10,"fontWeight":"bold"},"encoding":{"x":{"datum":0,"type":"quantitative","scale":{"domain":[0,1]},"axis":null},"y":{"field":"k","type":"nominal","scale":{"type":"band","domain":["h1","h2","h3","h4","r0","r1","r2","r3","r4","r5","r6","r7","r8","r9","r10","r11","r12","r13","r14","r15"],"paddingInner":0,"paddingOuter":0.338,"align":0,"round":false},"axis":null},"text":{"field":"hrt"}}}
]},
{"width":83,"height":562.4,"layer":[
 {"data":{"values":[{}]},"mark":{"type":"rule","color":"#b0183d","strokeWidth":1.2},"encoding":{"y":{"datum":"h1","type":"nominal","bandPosition":-0.316,"scale":{"type":"band","domain":["h1","h2","h3","h4","r0","r1","r2","r3","r4","r5","r6","r7","r8","r9","r10","r11","r12","r13","r14","r15"],"paddingInner":0,"paddingOuter":0.338,"align":0,"round":false},"axis":null}}},
 {"data":{"values":[{}]},"mark":{"type":"rule"},"encoding":{"y":{"datum":"h4","type":"nominal","bandPosition":0.728,"scale":{"type":"band","domain":["h1","h2","h3","h4","r0","r1","r2","r3","r4","r5","r6","r7","r8","r9","r10","r11","r12","r13","r14","r15"],"paddingInner":0,"paddingOuter":0.338,"align":0,"round":false},"axis":null}}},
 {"data":{"values":[{"t":"P"}]},"mark":{"type":"text","align":"left","baseline":"alphabetic","fontSize":17,"dx":1},"encoding":{"x":{"datum":0,"type":"quantitative","scale":{"domain":[0,1]},"axis":null},"y":{"datum":"h1","type":"nominal","bandPosition":0.971,"scale":{"type":"band","domain":["h1","h2","h3","h4","r0","r1","r2","r3","r4","r5","r6","r7","r8","r9","r10","r11","r12","r13","r14","r15"],"paddingInner":0,"paddingOuter":0.338,"align":0,"round":false},"axis":null},"text":{"field":"t"}}},
 {"data":{"values":[{"t":"interaction"}]},"mark":{"type":"text","align":"left","baseline":"alphabetic","fontSize":9.5,"dx":12,"dy":1},"encoding":{"x":{"datum":0,"type":"quantitative","scale":{"domain":[0,1]},"axis":null},"y":{"datum":"h1","type":"nominal","bandPosition":0.971,"scale":{"type":"band","domain":["h1","h2","h3","h4","r0","r1","r2","r3","r4","r5","r6","r7","r8","r9","r10","r11","r12","r13","r14","r15"],"paddingInner":0,"paddingOuter":0.338,"align":0,"round":false},"axis":null},"text":{"field":"t"}}}
]},
{"width":9,"height":562.4,"layer":[
 {"data":{"values":[{}]},"mark":{"type":"rule","color":"#b0183d","strokeWidth":1.2},"encoding":{"y":{"datum":"h1","type":"nominal","bandPosition":-0.316,"scale":{"type":"band","domain":["h1","h2","h3","h4","r0","r1","r2","r3","r4","r5","r6","r7","r8","r9","r10","r11","r12","r13","r14","r15"],"paddingInner":0,"paddingOuter":0.338,"align":0,"round":false},"axis":null}}},
 {"data":{"values":[{}]},"mark":{"type":"rule"},"encoding":{"y":{"datum":"h4","type":"nominal","bandPosition":0.728,"scale":{"type":"band","domain":["h1","h2","h3","h4","r0","r1","r2","r3","r4","r5","r6","r7","r8","r9","r10","r11","r12","r13","r14","r15"],"paddingInner":0,"paddingOuter":0.338,"align":0,"round":false},"axis":null}}}
]},
{"width":16,"height":562.4,"layer":[
 {"data":{"values":[{}]},"mark":{"type":"rule","color":"#b0183d","strokeWidth":1.2},"encoding":{"y":{"datum":"h1","type":"nominal","bandPosition":-0.316,"scale":{"type":"band","domain":["h1","h2","h3","h4","r0","r1","r2","r3","r4","r5","r6","r7","r8","r9","r10","r11","r12","r13","r14","r15"],"paddingInner":0,"paddingOuter":0.338,"align":0,"round":false},"axis":null}}},
 {"data":{"values":[{}]},"mark":{"type":"rule","color":"#b0183d","strokeWidth":1.2},"encoding":{"x":{"datum":1,"type":"quantitative","scale":{"domain":[0,1]},"axis":null},"y":{"datum":"h1","type":"nominal","bandPosition":-0.316,"scale":{"type":"band","domain":["h1","h2","h3","h4","r0","r1","r2","r3","r4","r5","r6","r7","r8","r9","r10","r11","r12","r13","r14","r15"],"paddingInner":0,"paddingOuter":0.338,"align":0,"round":false},"axis":null},"y2":{"datum":"r15","bandPosition":5.279}}},
 {"data":{"name":"rows"},"transform":[{"filter":"datum.kind == 'group'"}],"mark":{"type":"text","align":"right","dx":-2},"encoding":{"x":{"datum":1,"type":"quantitative","scale":{"domain":[0,1]},"axis":null},"y":{"field":"k","type":"nominal","scale":{"type":"band","domain":["h1","h2","h3","h4","r0","r1","r2","r3","r4","r5","r6","r7","r8","r9","r10","r11","r12","r13","r14","r15"],"paddingInner":0,"paddingOuter":0.338,"align":0,"round":false},"axis":null},"text":{"field":"p"}}}
]}
],
"config":{
 "view":{"stroke":null},
 "text":{"font":"Open Sans","fontSize":14,"color":"#231f20","baseline":"middle"},
 "rule":{"color":"#231f20","strokeWidth":1.2},
 "concat":{"spacing":0}
}
}
